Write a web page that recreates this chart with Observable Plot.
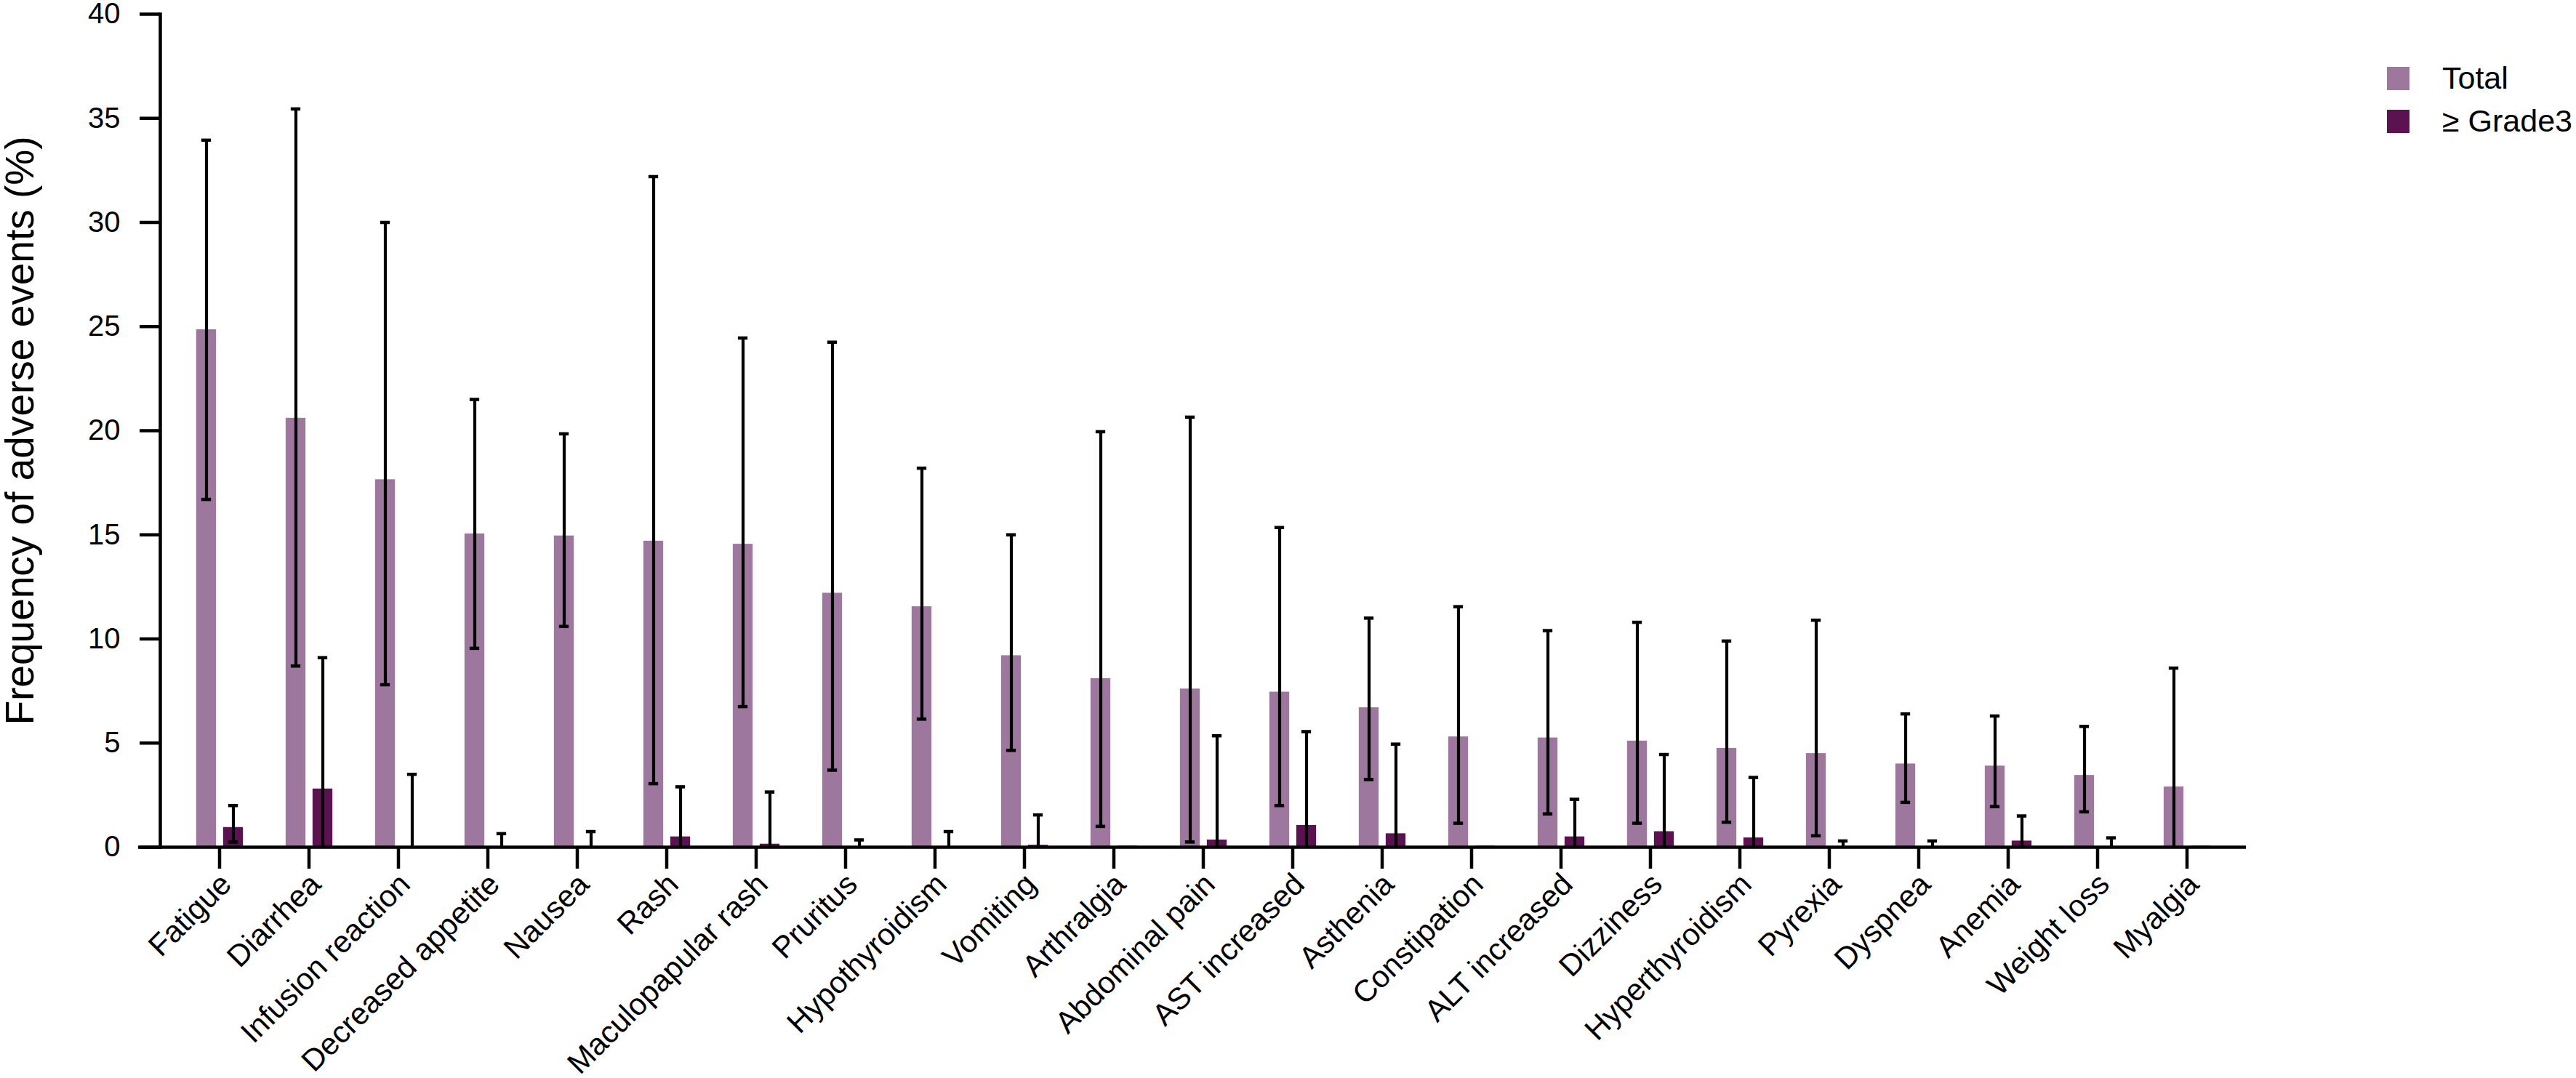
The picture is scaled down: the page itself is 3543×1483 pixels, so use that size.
<!DOCTYPE html>
<html>
<head>
<meta charset="utf-8">
<script src="https://cdn.jsdelivr.net/npm/d3@7"></script>
<script src="https://cdn.jsdelivr.net/npm/@observablehq/plot@0.6"></script>
<style>
  body { margin: 0; background: #fff; }
  #wrap { position: relative; width: 3543px; height: 1483px; font-family: "Liberation Sans", Arial, sans-serif; }
  #legend { position: absolute; left: 3283px; top: 78px; }
  .item { display: flex; align-items: center; height: 59px; font-size: 43px; color: #000; white-space: nowrap; }
  .sw { width: 31px; height: 32px; margin-right: 45px; flex: none; }
  svg text { font-family: "Liberation Sans", Arial, sans-serif; }
  g[aria-label="y-axis label"] text { font-size: 55px; }
</style>
</head>
<body>
<div id="wrap"><div id="legend"></div></div>
<script>
// ---- data ----
const categories = ["Fatigue", "Diarrhea", "Infusion reaction", "Decreased appetite", "Nausea", "Rash",
  "Maculopapular rash", "Pruritus", "Hypothyroidism", "Vomiting", "Arthralgia", "Abdominal pain",
  "AST increased", "Asthenia", "Constipation", "ALT increased", "Dizziness", "Hyperthyroidism",
  "Pyrexia", "Dyspnea", "Anemia", "Weight loss", "Myalgia"];
const total   = [24.85, 20.6, 17.65, 15.05, 14.95, 14.7, 14.55, 12.2, 11.55, 9.2, 8.1, 7.6, 7.45, 6.7, 5.3, 5.25, 5.1, 4.75, 4.5, 4.0, 3.9, 3.45, 2.9];
const totalLo = [16.7, 8.7, 7.8, 9.55, 10.6, 3.05, 6.75, 3.7, 6.15, 4.65, 1.0, 0.25, 2.0, 3.25, 1.15, 1.6, 1.15, 1.2, 0.55, 2.15, 1.95, 1.7, 0];
const totalHi = [33.95, 35.45, 30.0, 21.5, 19.85, 32.2, 24.45, 24.25, 18.2, 15.0, 19.95, 20.65, 15.35, 11.0, 11.55, 10.4, 10.8, 9.9, 10.9, 6.4, 6.3, 5.8, 8.6];
const grade   = [0.95, 2.8, 0, 0, 0, 0.5, 0.15, 0, 0, 0.1, 0.06, 0.35, 1.05, 0.65, 0.06, 0.5, 0.75, 0.45, 0, 0, 0.3, 0, 0.06];
const gradeLo = [0.25, 0, 0, 0, 0, 0, 0, 0, 0, 0, null, 0, 0, 0, null, 0, 0, 0, 0, 0, 0, 0, null];
const gradeHi = [2.0, 9.1, 3.5, 0.65, 0.75, 2.9, 2.65, 0.35, 0.75, 1.55, null, 5.35, 5.55, 4.95, null, 2.3, 4.45, 3.35, 0.3, 0.3, 1.5, 0.45, null];
const seriesNames = ["Total", "\u2265 Grade3"];
const seriesColors = ["#9e779e", "#5c1150"];
const yTicks = [0, 5, 10, 15, 20, 25, 30, 35, 40];
const yLabel = "Frequency of adverse events (%)";

// ---- table ----
const rows = categories.map((c, i) => ({
  c, total: total[i], tLo: totalLo[i], tHi: totalHi[i],
  g: grade[i], gLo: gradeLo[i], gHi: gradeHi[i]
}));

const x0 = 232, x1 = 3077;
const h = (x1 - x0) / categories.length / 2; // half band

const capT = {insetLeft: h - 25, insetRight: h + 11, stroke: "black", strokeWidth: 4.5};
const capG = {insetLeft: h + 12, insetRight: h - 26, stroke: "black", strokeWidth: 4.5};

const chart = Plot.plot({
  width: 3543,
  height: 1483,
  marginLeft: 220,
  marginRight: 454,
  marginTop: 19,
  marginBottom: 318,
  style: {fontFamily: "'Liberation Sans', Arial, sans-serif", fontSize: "40px", color: "black", background: "white", overflow: "visible"},
  x: {domain: categories, range: [x0, x1], padding: 0, label: null},
  y: {domain: [0, 40], label: null},
  marks: [
    Plot.barY(rows, {x: "c", y: "total", fill: seriesColors[0], insetLeft: h - 32, insetRight: h + 4}),
    Plot.barY(rows, {x: "c", y: "g", fill: seriesColors[1], insetLeft: h + 5, insetRight: h - 33}),
    Plot.ruleX(rows, {x: "c", y1: "tLo", y2: "tHi", dx: -18, stroke: "black", strokeWidth: 4.2}),
    Plot.tickY(rows, {x: "c", y: "tHi", ...capT}),
    Plot.tickY(rows.filter(d => d.tLo > 0), {x: "c", y: "tLo", ...capT}),
    Plot.ruleX(rows.filter(d => d.gHi != null), {x: "c", y1: "gLo", y2: "gHi", dx: 19, stroke: "black", strokeWidth: 4.2}),
    Plot.tickY(rows.filter(d => d.gHi != null), {x: "c", y: "gHi", ...capG}),
    Plot.tickY(rows.filter(d => d.gLo > 0), {x: "c", y: "gLo", ...capG}),
    Plot.ruleY([0], {insetLeft: -30, stroke: "black", strokeWidth: 4.5}),
    Plot.frame({anchor: "left", stroke: "black", strokeWidth: 4.5}),
    Plot.axisY({ticks: yTicks, tickSize: 28, tickPadding: 27, strokeWidth: 4.5,
      label: yLabel, labelAnchor: "center", labelArrow: "none", labelOffset: 214}),
    Plot.axisX({text: null, tickSize: 30, strokeWidth: 4.5, label: null}),
    Plot.axisX({tickSize: 0, tickPadding: 44, dx: 9, tickRotate: -45, fontSize: 42, label: null})
  ]
});

const wrap = document.getElementById("wrap");
wrap.insertBefore(chart, wrap.firstChild);

const legend = document.getElementById("legend");
seriesNames.forEach((n, i) => {
  const item = document.createElement("div");
  item.className = "item";
  const sw = document.createElement("div");
  sw.className = "sw";
  sw.style.background = seriesColors[i];
  const t = document.createElement("span");
  t.textContent = n;
  item.appendChild(sw);
  item.appendChild(t);
  legend.appendChild(item);
});
</script>
</body>
</html>
